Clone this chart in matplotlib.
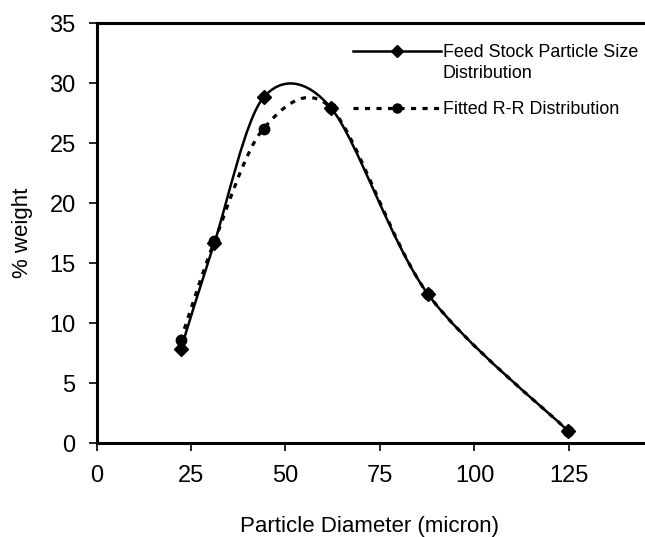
import matplotlib
matplotlib.use('Agg')
import matplotlib.pyplot as plt
import numpy as np
from matplotlib.path import Path
from matplotlib.patches import PathPatch
from matplotlib.lines import Line2D

plt.rcParams['font.family'] = ['Liberation Sans', 'DejaVu Sans']

diameter = [22.3, 31.2, 44.2, 62.1, 87.7, 124.8]
feed_stock = [7.8, 16.7, 28.8, 27.9, 12.4, 1.0]
fitted_x = [22.3, 31.2, 44.2, 62.1, 87.7, 124.8]
fitted_rr = [8.6, 16.8, 26.2, 27.9, 12.4, 1.0]

x_ticks = [0, 25, 50, 75, 100, 125]
y_ticks = [0, 5, 10, 15, 20, 25, 30, 35]

DOTS = (0, (1.6, 2.0))


def smooth_path(x, y, k=1 / 6.5):
    # excel-like smoothed line: cubic bezier with catmull-rom control points
    p = np.column_stack([x, y])
    n = len(p)
    verts = [p[0]]
    codes = [Path.MOVETO]
    for i in range(n - 1):
        prev_ = p[i - 1] if i > 0 else p[i]
        next_ = p[i + 2] if i + 2 < n else p[i + 1]
        c1 = p[i] + (p[i + 1] - prev_) * k
        c2 = p[i + 1] - (next_ - p[i]) * k
        verts += [c1, c2, p[i + 1]]
        codes += [Path.CURVE4] * 3
    return Path(verts, codes)


fig = plt.figure(figsize=(6.45, 5.37), dpi=100)
ax = fig.add_axes([96.5 / 645, 1 - 443 / 537, (643 - 96.5) / 645, 420 / 537])

ax.add_patch(PathPatch(smooth_path(diameter, feed_stock), fill=False,
                       lw=1.8, ec='black'))
ax.add_patch(PathPatch(smooth_path(fitted_x, fitted_rr), fill=False,
                       lw=2.3, ec='black', linestyle=DOTS))
ax.plot(diameter, feed_stock, linestyle='none', marker='D', ms=7,
        color='black')
ax.plot(fitted_x, fitted_rr, linestyle='none', marker='o', ms=7.5,
        color='black')

ax.set_xlim(0, 144.6)
ax.set_ylim(0, 35)
ax.set_xticks(x_ticks)
ax.set_yticks(y_ticks)
ax.tick_params(labelsize=17, length=6, width=1.2)
ax.tick_params(axis='x', pad=10)
ax.tick_params(axis='y', pad=9)
for s in ('left', 'bottom', 'top'):
    ax.spines[s].set_linewidth(2.2)
ax.spines['right'].set_visible(False)

ax.set_xlabel('Particle Diameter (micron)', fontsize=16, labelpad=21)
ax.set_ylabel('% weight', fontsize=16, labelpad=12)

h1 = Line2D([], [], color='black', lw=1.8, marker='D', ms=6.5)
blank = Line2D([], [], color='none')
h2 = Line2D([], [], color='black', lw=2.3, linestyle=DOTS, marker='o', ms=6.5)

leg_a = ax.legend([h1, blank], ['Feed Stock Particle Size', 'Distribution'],
                  loc='center left', bbox_to_anchor=(353 / 645, 1 - 63 / 537),
                  bbox_transform=fig.transFigure, frameon=False, fontsize=12.9,
                  handlelength=4.9, handletextpad=0.1, labelspacing=0.2,
                  borderpad=0, borderaxespad=0)
ax.add_artist(leg_a)
ax.legend([h2], ['Fitted R-R Distribution'],
          loc='center left', bbox_to_anchor=(353 / 645, 1 - 110 / 537),
          bbox_transform=fig.transFigure, frameon=False, fontsize=12.9,
          handlelength=4.9, handletextpad=0.1, borderpad=0, borderaxespad=0)

fig.savefig('out.png', dpi=100)
